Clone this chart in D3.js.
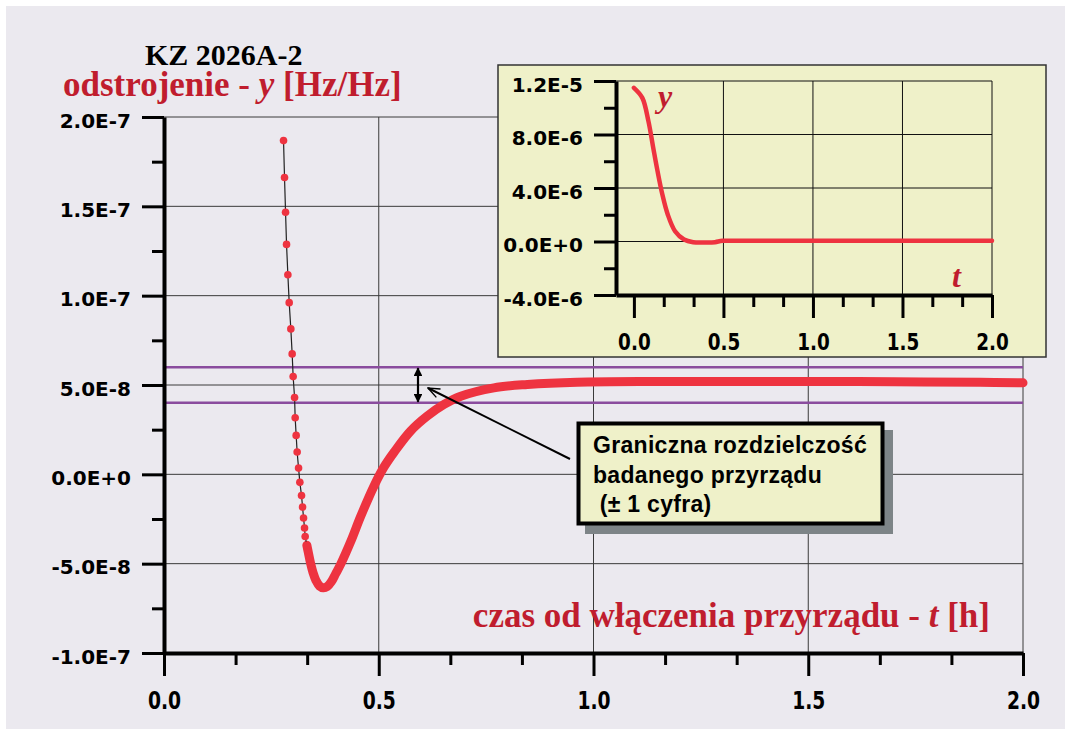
<!DOCTYPE html>
<html>
<head>
<meta charset="utf-8">
<script src="https://cdn.jsdelivr.net/npm/d3@7"></script>
<style>
    body { margin: 0; background: #ffffff; }
    svg { display: block; }
    .serif { font-family: "Liberation Serif", "Times New Roman", serif; font-weight: bold; }
    .tick text { font-family: "DejaVu Sans", Verdana, sans-serif; font-weight: bold; fill: #000; }
</style>
</head>
<body>
<svg id="chart" width="1071" height="736"></svg>
<script>
// --- Data ---
const mainTicksX = [0, 0.5, 1.0, 1.5, 2.0];
const mainTicksY = [-1e-7, -5e-8, 0, 5e-8, 1e-7, 1.5e-7, 2e-7];
const mainTickLabelsY = ['-1.0E-7', '-5.0E-8', '0.0E+0', '5.0E-8', '1.0E-7', '1.5E-7', '2.0E-7'];
const resolutionLimits = [4e-8, 6e-8];   // ± 1 cyfra around 5E-8

// first minutes: separate readings (dots joined by a thin line)
const earlyT = [0.2783, 0.2806, 0.2830, 0.2853, 0.2884, 0.2915, 0.2953, 0.2984, 0.3007, 0.3040,
                0.3054, 0.3077, 0.3100, 0.3133, 0.3163, 0.3202, 0.3226, 0.3249, 0.3272, 0.3287, 0.3326];
const earlyY = [18.68, 16.61, 14.67, 12.87, 11.17, 9.61, 8.14, 6.74, 5.47, 4.30,
                3.17, 2.18, 1.25, 0.35, -0.45, -1.19, -1.83, -2.44, -3.00, -3.48, -3.97].map(v => v * 1e-8);

// later readings are so dense they merge into a thick band
const denseT = [0.3326, 0.336, 0.341, 0.347, 0.354, 0.362, 0.371, 0.380, 0.390, 0.400, 0.412, 0.435,
                0.458, 0.489, 0.512, 0.536, 0.574, 0.613, 0.652, 0.691, 0.768, 0.846, 0.962, 1.14,
                1.3, 1.5, 1.7, 1.9, 2.0];
const denseY = [-3.97, -4.37, -4.95, -5.5, -5.95, -6.25, -6.35, -6.28, -6.0, -5.55, -5.0, -3.75,
                -2.35, -0.65, 0.4, 1.25, 2.42, 3.26, 3.91, 4.37, 4.84, 5.03, 5.16, 5.2,
                5.2, 5.2, 5.18, 5.15, 5.12].map(v => v * 1e-8);

// inset: whole run from switch-on
const insetT = [0, 0.047, 0.081, 0.108, 0.132, 0.159, 0.189, 0.23, 0.28, 0.331, 0.40, 0.453, 0.494, 0.6, 1.0, 1.5, 2.0];
const insetY = [11.49, 10.74, 9.0, 7.0, 5.26, 3.51, 2.02, 0.77, 0.15, -0.05, -0.07, -0.05, 0.05, 0.05, 0.05, 0.05, 0.05].map(v => v * 1e-6);
const insetTicksX = [0, 0.5, 1.0, 1.5, 2.0];
const insetTicksY = [-4e-6, 0, 4e-6, 8e-6, 1.2e-5];
const insetTickLabelsY = ['-4.0E-6', '0.0E+0', '4.0E-6', '8.0E-6', '1.2E-5'];

const annotationLines = ['Graniczna rozdzielczość', 'badanego przyrządu', '\u00a0(± 1 cyfra)'];

// --- Colours ---
const colors = {
    bg: '#ebe9ef',
    curve: '#ee3340',
    label: '#c01d2e',
    limit: '#8a4c9e',
    grid: '#3a3a3a',
    panel: '#eff1c9',
    shadow: '#7d8487'
};

const svg = d3.select('#chart');

svg.append('rect')
    .attr('x', 6).attr('y', 6)
    .attr('width', 1059).attr('height', 723)
    .attr('fill', colors.bg);

const defs = svg.append('defs');
defs.append('marker')
    .attr('id', 'solid-head')
    .attr('viewBox', '0 -5 10 10')
    .attr('refX', 9).attr('refY', 0)
    .attr('markerWidth', 4).attr('markerHeight', 4)
    .attr('markerUnits', 'strokeWidth')
    .attr('orient', 'auto-start-reverse')
    .append('path')
    .attr('d', 'M0,-5L10,0L0,5Z')
    .attr('fill', '#000');
defs.append('marker')
    .attr('id', 'open-head')
    .attr('viewBox', '-1 -6 12 12')
    .attr('refX', 10).attr('refY', 0)
    .attr('markerWidth', 7).attr('markerHeight', 7)
    .attr('markerUnits', 'strokeWidth')
    .attr('orient', 'auto')
    .append('path')
    .attr('d', 'M0,-4L10,0L0,4')
    .attr('fill', 'none')
    .attr('stroke', '#000')
    .attr('stroke-width', 1.2);

// --- Main plot ---
const x = d3.scaleLinear().domain([0, 2]).range([164, 1023]);
const y = d3.scaleLinear().domain([-1e-7, 2e-7]).range([653, 117]);

const grid = svg.append('g').attr('stroke', colors.grid).attr('stroke-width', 1);
grid.selectAll('.gy').data(mainTicksY.slice(1)).join('line')
    .attr('x1', x(0)).attr('x2', x(2))
    .attr('y1', d => y(d)).attr('y2', d => y(d));
grid.selectAll('.gx').data(mainTicksX.slice(1)).join('line')
    .attr('x1', d => x(d)).attr('x2', d => x(d))
    .attr('y1', y(2e-7)).attr('y2', y(-1e-7));

svg.append('g').selectAll('line').data(resolutionLimits).join('line')
    .attr('x1', x(0)).attr('x2', x(2))
    .attr('y1', d => y(d)).attr('y2', d => y(d))
    .attr('stroke', colors.limit).attr('stroke-width', 2.5);

const early = earlyT.map((t, i) => [t, earlyY[i]]);
const dense = denseT.map((t, i) => [t, denseY[i]]);

svg.append('path')
    .datum(dense)
    .attr('d', d3.line().x(d => x(d[0])).y(d => y(d[1])).curve(d3.curveCatmullRom))
    .attr('fill', 'none')
    .attr('stroke', colors.curve)
    .attr('stroke-width', 9)
    .attr('stroke-linecap', 'round')
    .attr('stroke-linejoin', 'round');

svg.append('path')
    .datum(early)
    .attr('d', d3.line().x(d => x(d[0])).y(d => y(d[1])))
    .attr('fill', 'none')
    .attr('stroke', '#222')
    .attr('stroke-width', 1.2);

svg.append('g').selectAll('circle').data(early).join('circle')
    .attr('cx', d => x(d[0])).attr('cy', d => y(d[1]))
    .attr('r', 3.8)
    .attr('fill', colors.curve);

// axes
const minorY = mainTicksY.slice(1).map((v, i) => (v + mainTicksY[i]) / 2);
const minorX = [];
mainTicksX.slice(1).forEach((v, i) => {
    const a = mainTicksX[i];
    minorX.push(a + (v - a) / 3, a + 2 * (v - a) / 3);
});

function styleAxis(g, tickW, domainW) {
    g.select('.domain').attr('stroke', '#000').attr('stroke-width', domainW);
    g.selectAll('.tick line').attr('stroke', '#000').attr('stroke-width', tickW);
}

const yAxis = svg.append('g')
    .attr('transform', `translate(${x(0)},0)`)
    .call(d3.axisLeft(y).tickValues(mainTicksY).tickFormat((d, i) => mainTickLabelsY[i])
        .tickSize(22).tickSizeOuter(0).tickPadding(11));
styleAxis(yAxis, 3, 4);
yAxis.selectAll('.tick text').attr('font-size', 20).attr('dy', '0.5em');

svg.append('g')
    .attr('transform', `translate(${x(0)},0)`)
    .call(d3.axisLeft(y).tickValues(minorY).tickFormat('').tickSize(12).tickSizeOuter(0))
    .call(g => styleAxis(g, 3, 0));

const xAxis = svg.append('g')
    .attr('transform', `translate(0,${y(-1e-7)})`)
    .call(d3.axisBottom(x).tickValues(mainTicksX).tickFormat(d3.format('.1f'))
        .tickSize(23).tickSizeOuter(0));
styleAxis(xAxis, 3, 4);
xAxis.selectAll('.tick text')
    .attr('font-size', 24).attr('y', 56).attr('dy', 0)
    .attr('transform', 'scale(0.78,1)');

svg.append('g')
    .attr('transform', `translate(0,${y(-1e-7)})`)
    .call(d3.axisBottom(x).tickValues(minorX).tickFormat('').tickSize(12).tickSizeOuter(0))
    .call(g => styleAxis(g, 3, 0));

// titles
svg.append('text').attr('class', 'serif')
    .attr('x', 145).attr('y', 65)
    .attr('font-size', 30).attr('fill', '#000')
    .text('KZ 2026A-2');

const yTitle = svg.append('text').attr('class', 'serif')
    .attr('x', 63).attr('y', 96)
    .attr('font-size', 35).attr('fill', colors.label);
yTitle.append('tspan').text('odstrojenie - ');
yTitle.append('tspan').attr('font-style', 'italic').text('y');
yTitle.append('tspan').text(' [Hz/Hz]');

const xTitle = svg.append('text').attr('class', 'serif')
    .attr('x', 990).attr('y', 627)
    .attr('text-anchor', 'end')
    .attr('font-size', 35).attr('fill', colors.label);
xTitle.append('tspan').text('czas od włączenia przyrządu - ');
xTitle.append('tspan').attr('font-style', 'italic').text('t');
xTitle.append('tspan').text(' [h]');

// --- Inset ---
const ix = d3.scaleLinear().domain([-0.1, 2]).range([616, 992]);
const iy = d3.scaleLinear().domain([-4e-6, 1.2e-5]).range([295, 81]);

svg.append('rect')
    .attr('x', 498).attr('y', 65)
    .attr('width', 548).attr('height', 292)
    .attr('fill', colors.panel)
    .attr('stroke', '#333').attr('stroke-width', 1.5);

const igrid = svg.append('g').attr('stroke', '#111').attr('stroke-width', 1);
igrid.selectAll('.gy').data(insetTicksY.slice(1)).join('line')
    .attr('x1', ix(-0.1)).attr('x2', ix(2))
    .attr('y1', d => iy(d)).attr('y2', d => iy(d));
igrid.selectAll('.gx').data(insetTicksX.slice(1)).join('line')
    .attr('x1', d => ix(d)).attr('x2', d => ix(d))
    .attr('y1', iy(1.2e-5)).attr('y2', iy(-4e-6));

svg.append('path')
    .datum(insetT.map((t, i) => [t, insetY[i]]))
    .attr('d', d3.line().x(d => ix(d[0])).y(d => iy(d[1])).curve(d3.curveCatmullRom))
    .attr('fill', 'none')
    .attr('stroke', colors.curve)
    .attr('stroke-width', 4.5)
    .attr('stroke-linecap', 'round');

const iMinorY = insetTicksY.slice(1).map((v, i) => (v + insetTicksY[i]) / 2);
const iMinorX = [];
insetTicksX.slice(1).forEach((v, i) => {
    const a = insetTicksX[i];
    iMinorX.push(a + (v - a) / 3, a + 2 * (v - a) / 3);
});

const iyAxis = svg.append('g')
    .attr('transform', `translate(${ix(-0.1)},0)`)
    .call(d3.axisLeft(iy).tickValues(insetTicksY).tickFormat((d, i) => insetTickLabelsY[i])
        .tickSize(22).tickSizeOuter(0).tickPadding(11));
styleAxis(iyAxis, 3, 4);
iyAxis.selectAll('.tick text').attr('font-size', 20).attr('dy', '0.5em');

svg.append('g')
    .attr('transform', `translate(${ix(-0.1)},0)`)
    .call(d3.axisLeft(iy).tickValues(iMinorY).tickFormat('').tickSize(12).tickSizeOuter(0))
    .call(g => styleAxis(g, 3, 0));

const ixAxis = svg.append('g')
    .attr('transform', `translate(0,${iy(-4e-6)})`)
    .call(d3.axisBottom(ix).tickValues(insetTicksX).tickFormat(d3.format('.1f'))
        .tickSize(23).tickSizeOuter(0));
styleAxis(ixAxis, 3, 4);
ixAxis.selectAll('.tick text')
    .attr('font-size', 23).attr('y', 55).attr('dy', 0)
    .attr('transform', 'scale(0.8,1)');

svg.append('g')
    .attr('transform', `translate(0,${iy(-4e-6)})`)
    .call(d3.axisBottom(ix).tickValues(iMinorX).tickFormat('').tickSize(12).tickSizeOuter(0))
    .call(g => styleAxis(g, 3, 0));

svg.append('text').attr('class', 'serif')
    .attr('x', 658).attr('y', 107)
    .attr('font-size', 32).attr('font-style', 'italic')
    .attr('fill', colors.label).text('y');
svg.append('text').attr('class', 'serif')
    .attr('x', 952).attr('y', 287)
    .attr('font-size', 32).attr('font-style', 'italic')
    .attr('fill', colors.label).text('t');

// --- Annotation ---
svg.append('line')
    .attr('x1', 418).attr('x2', 418)
    .attr('y1', y(resolutionLimits[1]) + 1).attr('y2', y(resolutionLimits[0]) - 1)
    .attr('stroke', '#000').attr('stroke-width', 2.2)
    .attr('marker-start', 'url(#solid-head)')
    .attr('marker-end', 'url(#solid-head)');

svg.append('line')
    .attr('x1', 570).attr('y1', 459)
    .attr('x2', 428).attr('y2', 388)
    .attr('stroke', '#000').attr('stroke-width', 2)
    .attr('marker-end', 'url(#open-head)');

svg.append('rect')
    .attr('x', 585).attr('y', 430)
    .attr('width', 308).attr('height', 104)
    .attr('fill', colors.shadow);
svg.append('rect')
    .attr('x', 578.5).attr('y', 423.5)
    .attr('width', 304).attr('height', 100)
    .attr('fill', colors.panel)
    .attr('stroke', '#000').attr('stroke-width', 4);

svg.append('g').selectAll('text').data(annotationLines).join('text')
    .attr('x', 593)
    .attr('y', (d, i) => 453 + i * 29.5)
    .attr('font-family', '"Liberation Sans", Arial, sans-serif')
    .attr('font-weight', 'bold')
    .attr('font-size', 23)
    .attr('letter-spacing', 0.3)
    .attr('fill', '#000')
    .text(d => d);
</script>
</body>
</html>
